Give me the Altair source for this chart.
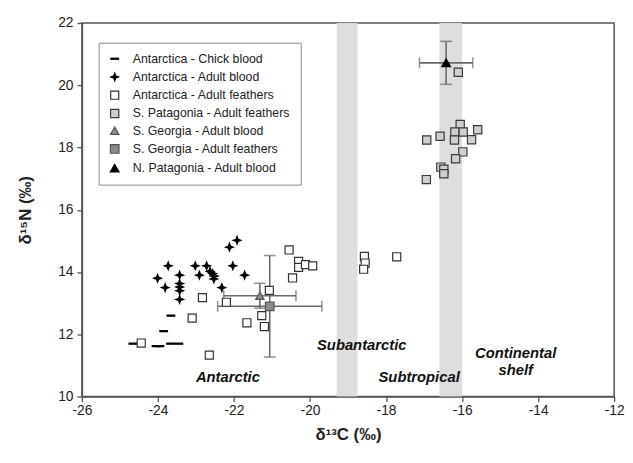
import altair as alt
import pandas as pd

GROUPS = [
    "Antarctica - Chick blood",
    "Antarctica - Adult blood",
    "Antarctica - Adult feathers",
    "S. Patagonia - Adult feathers",
    "S. Georgia - Adult blood",
    "S. Georgia - Adult feathers",
    "N. Patagonia - Adult blood",
]

# Antarctica - chick blood
chick_x = [-23.66, -23.85, -24.66, -24.05, -23.95, -23.67, -23.45]
chick_y = [12.60, 12.10, 11.70, 11.62, 11.62, 11.70, 11.70]

# Antarctica - adult blood
ablood_x = [-24.01, -23.73, -23.81, -23.43, -23.43, -23.43, -23.43, -23.43, -23.02, -22.91,
            -22.72, -22.63, -22.56, -22.52, -22.53, -22.32, -22.12, -21.92, -22.03, -21.72]
ablood_y = [13.80, 14.20, 13.50, 13.90, 13.63, 13.52, 13.40, 13.12, 14.20, 13.90,
            14.20, 14.02, 13.95, 13.87, 13.78, 13.50, 14.80, 15.02, 14.20, 13.90]

# Antarctica - adult feathers
afeath_x = [-24.44, -22.83, -23.10, -22.65, -22.20, -21.66, -21.27, -21.20, -21.07, -20.55,
            -20.30, -20.30, -20.12, -19.93, -20.46, -18.57, -18.55, -18.59, -17.72]
afeath_y = [11.72, 13.18, 12.52, 11.33, 13.03, 12.37, 12.60, 12.25, 13.41, 14.71,
            14.34, 14.15, 14.24, 14.20, 13.81, 14.50, 14.29, 14.09, 14.49]

# S. Patagonia - adult feathers
spat_x = [-16.10, -16.05, -16.19, -15.97, -15.59, -16.58, -16.93, -16.20, -15.75, -15.98,
          -16.17, -16.56, -16.48, -16.48, -16.94]
spat_y = [20.42, 18.74, 18.50, 18.50, 18.57, 18.36, 18.24, 18.24, 18.25, 17.86,
          17.64, 17.37, 17.30, 17.16, 16.97]

# Means with SD (S. Georgia blood, S. Georgia feathers, N. Patagonia blood)
mean_group = ["S. Georgia - Adult blood", "S. Georgia - Adult feathers", "N. Patagonia - Adult blood"]
mean_x = [-21.32, -21.06, -16.42]
mean_y = [13.24, 12.90, 20.72]
sd_x = [0.95, 1.37, 0.70]
sd_y = [0.40, 1.63, 0.69]

# Water-mass boundary bands
band_lo = [-19.30, -16.60]
band_hi = [-18.75, -16.00]

# Region labels
region_text = ["Antarctic", "Subantarctic", "Subtropical", "Continental\nshelf"]
region_x = [-22.16, -18.64, -17.13, -14.59]
region_y = [10.63, 11.67, 10.62, 11.40]

x_ticks = list(range(-26, -11))
y_ticks = list(range(10, 23))

rows = []
for g, xs, ys in [(GROUPS[0], chick_x, chick_y), (GROUPS[1], ablood_x, ablood_y),
                  (GROUPS[2], afeath_x, afeath_y), (GROUPS[3], spat_x, spat_y)]:
    for a, b in zip(xs, ys):
        rows.append({"group": g, "x": a, "y": b})
for g, a, b in zip(mean_group, mean_x, mean_y):
    rows.append({"group": g, "x": a, "y": b})
points = pd.DataFrame(rows)

means = pd.DataFrame({"group": mean_group, "x": mean_x, "y": mean_y, "sx": sd_x, "sy": sd_y})
bands = pd.DataFrame({"lo": band_lo, "hi": band_hi})
labels = pd.DataFrame({"text": region_text, "x": region_x, "y": region_y})

W, H = 540, 379
FONT = "Liberation Sans"

xscale = alt.Scale(domain=[-26, -12], nice=False, zero=False)
yscale = alt.Scale(domain=[10, 22], nice=False, zero=False)

dash_path = "M-1,-0.14L1,-0.14L1,0.14L-1,0.14Z"
star_path = "M0,-1L0.28,-0.28L1,0L0.28,0.28L0,1L-0.28,0.28L-1,0L-0.28,-0.28Z"

shape_range = [dash_path, star_path, "square", "square", "triangle-up", "square", "triangle-up"]
fill_range = ["#000000", "#000000", "#ffffff", "#cfcfcf", "#8a8a8a", "#8a8a8a", "#000000"]
stroke_range = ["#000000", "#000000", "#333333", "#3a3a3a", "#555555", "#555555", "#000000"]
size_range = [60, 80, 30, 30, 180, 170, 180]

xaxis = alt.Axis(values=x_ticks, labelExpr="datum.value % 2 === 0 ? toString(datum.value) : ''",
                 title="δ¹³C (‰)", grid=False, tickSize=5, labelFlush=False, labelPadding=2)
yaxis = alt.Axis(values=y_ticks, labelExpr="datum.value % 2 === 0 ? toString(datum.value) : ''",
                 title="δ¹⁵N (‰)", grid=False, tickSize=5, labelFlush=False)

band_layer = alt.Chart(bands).mark_rect(fill="#dcdcdc", opacity=0.95).encode(
    x=alt.X("lo:Q", scale=xscale, axis=xaxis),
    x2="hi:Q",
    y=alt.value(0),
    y2=alt.value(H),
)

base_m = alt.Chart(means).transform_calculate(
    xlo="datum.x - datum.sx", xhi="datum.x + datum.sx",
    ylo="datum.y - datum.sy", yhi="datum.y + datum.sy")

EC = "#6a6a6a"
ebx = base_m.mark_rule(color=EC, strokeWidth=1.6).encode(
    x=alt.X("xlo:Q", scale=xscale), x2="xhi:Q", y=alt.Y("y:Q", scale=yscale))
eby = base_m.mark_rule(color=EC, strokeWidth=1.6).encode(
    y=alt.Y("ylo:Q", scale=yscale), y2="yhi:Q", x=alt.X("x:Q", scale=xscale))
cap_xlo = base_m.mark_tick(color=EC, thickness=1.6, size=11, orient="vertical").encode(
    x=alt.X("xlo:Q", scale=xscale), y=alt.Y("y:Q", scale=yscale))
cap_xhi = base_m.mark_tick(color=EC, thickness=1.6, size=11, orient="vertical").encode(
    x=alt.X("xhi:Q", scale=xscale), y=alt.Y("y:Q", scale=yscale))
cap_ylo = base_m.mark_tick(color=EC, thickness=1.6, size=12, orient="horizontal").encode(
    x=alt.X("x:Q", scale=xscale), y=alt.Y("ylo:Q", scale=yscale))
cap_yhi = base_m.mark_tick(color=EC, thickness=1.6, size=12, orient="horizontal").encode(
    x=alt.X("x:Q", scale=xscale), y=alt.Y("yhi:Q", scale=yscale))

LEG = dict(title=None, orient="none", legendX=17, legendY=20)
pts = alt.Chart(points).mark_point(opacity=1, fillOpacity=1, strokeWidth=1.2).encode(
    x=alt.X("x:Q", scale=xscale),
    y=alt.Y("y:Q", scale=yscale, axis=yaxis),
    shape=alt.Shape("group:N", scale=alt.Scale(domain=GROUPS, range=shape_range), legend=alt.Legend(**LEG)),
    fill=alt.Fill("group:N", scale=alt.Scale(domain=GROUPS, range=fill_range), legend=alt.Legend(**LEG)),
    stroke=alt.Stroke("group:N", scale=alt.Scale(domain=GROUPS, range=stroke_range), legend=alt.Legend(**LEG)),
    size=alt.Size("group:N", scale=alt.Scale(domain=GROUPS, range=size_range), legend=alt.Legend(**LEG)),
    order=alt.Order("order:Q"),
).transform_calculate(order="indexof(['S. Georgia - Adult blood','S. Georgia - Adult feathers','N. Patagonia - Adult blood'], datum.group) >= 0 ? 1 : 0")

txt = alt.Chart(labels).mark_text(font=FONT, fontSize=15, fontWeight="bold", fontStyle="italic",
                                  color="#111111", lineBreak="\n", lineHeight=17,
                                  align="center", baseline="middle").encode(
    x=alt.X("x:Q", scale=xscale), y=alt.Y("y:Q", scale=yscale), text="text:N")

chart = alt.layer(band_layer, ebx, eby, cap_xlo, cap_xhi, cap_ylo, cap_yhi, pts, txt).properties(
    width=W, height=H, padding={"left": 8, "top": 5, "right": 0, "bottom": 5},
).configure_view(stroke="#555555", strokeWidth=1.5).configure_axis(
    domainColor="#555555", domainWidth=1.5, tickColor="#555555", tickWidth=1.3,
    labelFont=FONT, labelFontSize=14, labelColor="#222222", labelPadding=4,
    titleFont=FONT, titleFontSize=17, titleFontWeight="bold", titleColor="#222222",
).configure_axisX(titlePadding=10).configure_axisY(titlePadding=24).configure_legend(
    labelFont=FONT, labelFontSize=12.5, labelColor="#222222", strokeColor="#8a8a8a",
    fillColor="#ffffff", padding=10, rowPadding=4.5, labelOffset=12, symbolStrokeWidth=1.2,
    cornerRadius=0, labelLimit=300,
)

chart.save("out.html", embed_options={"renderer": "svg", "actions": False})
